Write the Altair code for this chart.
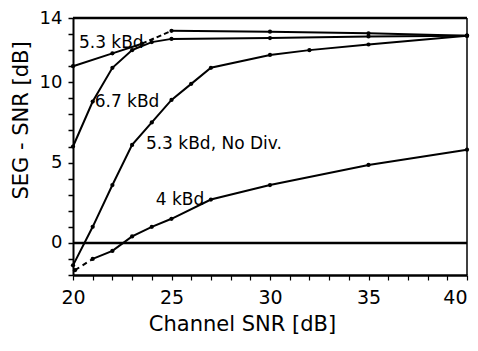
import altair as alt
import pandas as pd

# Channel SNR [dB] and SEG-SNR [dB] values
div53_x = [20, 22, 23.5, 25, 30, 35, 40]
div53_y = [11.0, 11.8, 12.4, 13.2, 13.15, 13.05, 12.9]

kbd67_x = [20, 21, 22, 23, 24, 25, 30, 35, 40]
kbd67_y = [6.0, 8.8, 10.9, 12.0, 12.5, 12.7, 12.75, 12.85, 12.9]

nodiv_x = [20, 21, 22, 23, 24, 25, 26, 27, 30, 32, 35, 40]
nodiv_y = [-1.4, 1.0, 3.6, 6.1, 7.5, 8.9, 9.9, 10.9, 11.7, 12.0, 12.35, 12.9]

kbd4_x = [20.1, 21, 22, 23, 24, 25, 27, 30, 35, 40]
kbd4_y = [-1.7, -1.0, -0.5, 0.4, 1.0, 1.5, 2.7, 3.6, 4.85, 5.8]

label_text = ["5.3 kBd", "6.7 kBd", "5.3 kBd, No Div.", "4 kBd"]
label_x = [20.3, 21.1, 23.7, 24.2]
label_y = [12.45, 8.8, 6.15, 2.65]

x_ticks = list(range(20, 41))
y_ticks = list(range(-2, 15))

font = "DejaVu Sans"

def frame(xs, ys):
    return pd.DataFrame({"x": xs, "y": ys})

# split into solid / dashed parts
d53 = frame(div53_x, div53_y)
d53_solid = d53[d53.x <= 23.5]
d53_dash = d53[(d53.x >= 23.5) & (d53.x <= 25)]
d53_rest = d53[d53.x >= 25]
d67 = frame(kbd67_x, kbd67_y)
dnd = frame(nodiv_x, nodiv_y)
d4 = frame(kbd4_x, kbd4_y)
d4_dash = d4[d4.x <= 21]
d4_solid = d4[d4.x >= 21]

xscale = alt.Scale(domain=[20, 40], nice=False, zero=False)
yscale = alt.Scale(domain=[-2, 14], nice=False, zero=False)

xaxis = alt.Axis(values=x_ticks, labelExpr="datum.value % 5 == 0 ? datum.label : ''",
                 labelOverlap=False, labelBound=False,
                 labelAlign=alt.expr("datum.value == 40 ? 'right' : 'center'"),
                 grid=False, domainWidth=2.5, domainColor="black", tickColor="black",
                 tickSize=5, tickWidth=1.2, labelFontSize=19, labelFont=font,
                 labelColor="black", titleFontSize=21, titleFont=font,
                 titleFontWeight="normal", titleColor="black", labelPadding=8,
                 titlePadding=6, labelFlush=False, titleX=169)
yaxis = alt.Axis(values=y_ticks,
                 labelExpr="(datum.value == 0 || datum.value == 5 || datum.value == 10 || datum.value == 14) ? datum.label : ''",
                 labelOverlap=False, labelBound=False,
                 grid=False, domainWidth=2, domainColor="black", tickColor="black",
                 tickSize=5, tickWidth=1.5, labelFontSize=18, labelFont=font,
                 labelColor="black", titleFontSize=21, titleFont=font,
                 titleFontWeight="normal", titleColor="black", labelPadding=6,
                 titlePadding=8, labelFlush=False, titleY=102)

X = alt.X("x:Q", scale=xscale, title="Channel  SNR  [dB]", axis=xaxis)
Y = alt.Y("y:Q", scale=yscale, title="SEG - SNR [dB]", axis=yaxis)

def line(df, dash=None, width=2):
    kw = dict(color="black", strokeWidth=width)
    if dash:
        kw["strokeDash"] = dash
    return alt.Chart(df).mark_line(**kw).encode(x=X, y=Y)

def dots(df):
    return alt.Chart(df).mark_point(filled=True, color="black", size=18, opacity=1).encode(x=X, y=Y)

hlines = alt.Chart(pd.DataFrame({"y": [0, 14]})).mark_rule(color="black", strokeWidth=2.5).encode(y=Y)
vline = alt.Chart(pd.DataFrame({"x": [40]})).mark_rule(color="black", strokeWidth=1.5).encode(x=X)

labels = alt.Chart(pd.DataFrame({"t": label_text, "x": label_x, "y": label_y})).mark_text(
    align="left", baseline="middle", fontSize=17, font=font, color="black").encode(
    x=X, y=Y, text="t:N")

chart = alt.layer(
    line(d53_solid), line(d53_dash, dash=[5, 3]), line(d53_rest),
    line(d67), line(dnd),
    line(d4_dash, dash=[5, 4]), line(d4_solid),
    dots(d53), dots(d67), dots(dnd), dots(d4),
    hlines, vline,
    labels,
).properties(
    width=394, height=257,
    autosize=alt.AutoSizeParams(type="none"),
    padding={"left": 65, "top": 10, "right": 3, "bottom": 66},
).configure_view(stroke=None)

chart.save("out.html", embed_options={"renderer": "svg", "actions": False})
